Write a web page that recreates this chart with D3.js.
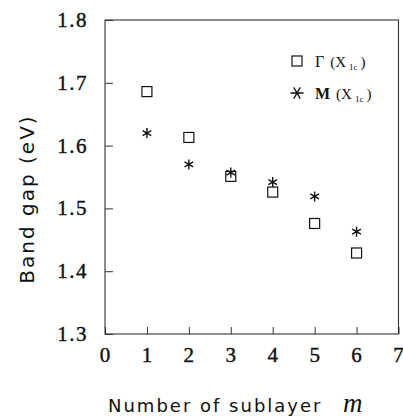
<!DOCTYPE html>
<html>
<head>
<meta charset="utf-8">
<script src="https://cdn.jsdelivr.net/npm/d3@7"></script>
<style>
  body { margin: 0; background: #fff; }
  svg { display: block; }
</style>
</head>
<body>
<div id="chart"></div>
<script>
// datos
var sublayers = [1, 2, 3, 4, 5, 6];
var gammaGap = [1.686, 1.613, 1.551, 1.526, 1.476, 1.429];
var mGap = [1.620, 1.570, 1.557, 1.542, 1.519, 1.463];
var xTicks = [0, 1, 2, 3, 4, 5, 6, 7];
var yTicks = [1.3, 1.4, 1.5, 1.6, 1.7, 1.8];

var width = 403;
var height = 417;
var margin = { top: 20, right: 4, bottom: 83, left: 105 };
var serif = "'Liberation Serif', serif";
var sans = "'DejaVu Sans', sans-serif";

var svg = d3
  .select("#chart")
  .append("svg")
  .attr("width", width)
  .attr("height", height);

var x = d3.scaleLinear().domain([0, 7]).range([margin.left, width - margin.right - 0.5]);
var y = d3.scaleLinear().domain([1.3, 1.8]).range([height - margin.bottom, margin.top]);

// marco
svg
  .append("rect")
  .attr("x", x(0))
  .attr("y", y(1.8))
  .attr("width", x(7) - x(0))
  .attr("height", y(1.3) - y(1.8))
  .attr("fill", "none")
  .attr("stroke", "#333")
  .attr("stroke-width", 1.1);

// ticks hacia adentro
svg
  .append("g")
  .attr("transform", "translate(0," + y(1.3) + ")")
  .call(d3.axisTop(x).tickValues(xTicks).tickSize(7).tickFormat(""))
  .call(function (g) {
    g.select(".domain").remove();
    g.selectAll("line").attr("stroke", "#333");
  });

svg
  .append("g")
  .attr("transform", "translate(" + x(0) + ",0)")
  .call(d3.axisRight(y).tickValues(yTicks).tickSize(8).tickFormat(""))
  .call(function (g) {
    g.select(".domain").remove();
    g.selectAll("line").attr("stroke", "#333");
  });

// etiquetas de los ticks
svg
  .selectAll(".ylab")
  .data(yTicks)
  .enter()
  .append("text")
  .attr("class", "ylab")
  .attr("x", 88)
  .attr("y", function (d) { return y(d) + 7; })
  .attr("text-anchor", "end")
  .attr("font-family", serif)
  .attr("font-size", 21)
  .attr("letter-spacing", 1.5)
  .attr("fill", "#111")
  .attr("stroke", "#111")
  .attr("stroke-width", 0.4)
  .text(function (d) { return d.toFixed(1); });

svg
  .selectAll(".xlab")
  .data(xTicks)
  .enter()
  .append("text")
  .attr("class", "xlab")
  .attr("x", function (d) { return x(d); })
  .attr("y", 362)
  .attr("text-anchor", "middle")
  .attr("font-family", serif)
  .attr("font-size", 21)
  .attr("fill", "#111")
  .attr("stroke", "#111")
  .attr("stroke-width", 0.4)
  .text(function (d) { return d; });

// titulos
svg
  .append("text")
  .attr("transform", "translate(34,199) rotate(-90)")
  .attr("text-anchor", "middle")
  .attr("font-family", sans)
  .attr("font-size", 20)
  .attr("letter-spacing", 2)
  .attr("fill", "#111")
  .text("Band gap (eV)");

svg
  .append("text")
  .attr("x", 108)
  .attr("y", 412)
  .attr("font-family", sans)
  .attr("font-size", 18)
  .attr("letter-spacing", 2)
  .attr("fill", "#111")
  .text("Number of sublayer");

svg
  .append("text")
  .attr("x", 343)
  .attr("y", 412)
  .attr("font-family", serif)
  .attr("font-style", "italic")
  .attr("font-size", 27)
  .attr("fill", "#111")
  .text("m");

// marcadores
function starPath(r, horizontal) {
  var p = d3.path();
  var angles = horizontal ? [0, 60, 120] : [90, 30, 150];
  angles.forEach(function (a) {
    var rad = (a * Math.PI) / 180;
    p.moveTo(-r * Math.cos(rad), -r * Math.sin(rad));
    p.lineTo(r * Math.cos(rad), r * Math.sin(rad));
  });
  return p.toString();
}

var sq = 10;

svg
  .selectAll(".gamma")
  .data(sublayers)
  .enter()
  .append("rect")
  .attr("class", "gamma")
  .attr("x", function (d) { return x(d) - sq / 2; })
  .attr("y", function (d, i) { return y(gammaGap[i]) - sq / 2; })
  .attr("width", sq)
  .attr("height", sq)
  .attr("fill", "none")
  .attr("stroke", "#111")
  .attr("stroke-width", 1.2);

svg
  .selectAll(".mstar")
  .data(sublayers)
  .enter()
  .append("path")
  .attr("class", "mstar")
  .attr("transform", function (d, i) {
    return "translate(" + x(d) + "," + y(mGap[i]) + ")";
  })
  .attr("d", starPath(5, false))
  .attr("fill", "none")
  .attr("stroke", "#111")
  .attr("stroke-width", 1.4);

// leyenda
var legend = svg.append("g");

legend
  .append("rect")
  .attr("x", 292)
  .attr("y", 56)
  .attr("width", sq)
  .attr("height", sq)
  .attr("fill", "none")
  .attr("stroke", "#111")
  .attr("stroke-width", 1.2);

legend
  .append("path")
  .attr("transform", "translate(297,93)")
  .attr("d", starPath(6.5, true))
  .attr("fill", "none")
  .attr("stroke", "#111")
  .attr("stroke-width", 1.3);

var legendRows = [
  { sym: "\u0393", y: 67, bold: false },
  { sym: "M", y: 99, bold: true }
];

legendRows.forEach(function (r) {
  var t = legend
    .append("text")
    .attr("x", 315)
    .attr("y", r.y)
    .attr("font-family", serif)
    .attr("font-size", 16)
    .attr("fill", "#111");
  t.append("tspan").attr("font-weight", r.bold ? "bold" : "normal").text(r.sym);
  t.append("tspan").attr("dx", 6).attr("font-size", 15).text("(X");
  t.append("tspan").attr("dy", 3).attr("dx", 3).attr("font-size", 9).text("1c");
  t.append("tspan").attr("dy", -3).attr("dx", 3).attr("font-size", 15).text(")");
});
</script>
</body>
</html>
